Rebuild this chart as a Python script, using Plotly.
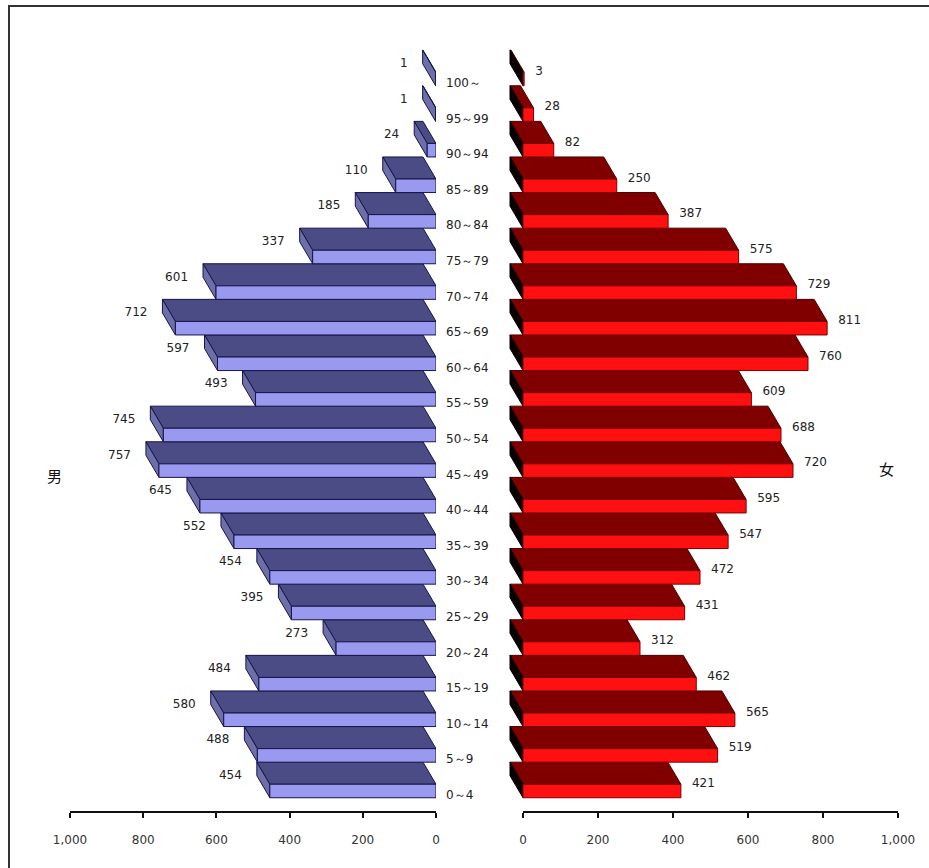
import plotly.graph_objects as go

# ---------------- data ----------------
ages = ["0～4", "5～9", "10～14", "15～19", "20～24", "25～29", "30～34", "35～39",
        "40～44", "45～49", "50～54", "55～59", "60～64", "65～69", "70～74", "75～79",
        "80～84", "85～89", "90～94", "95～99", "100～"]
male = [454, 488, 580, 484, 273, 395, 454, 552, 645, 757, 745, 493, 597, 712, 601,
        337, 185, 110, 24, 1, 1]
female = [421, 519, 565, 462, 312, 431, 472, 547, 595, 720, 688, 609, 760, 811, 729,
          575, 387, 250, 82, 28, 3]
tick_vals = [0, 200, 400, 600, 800, 1000]
label_male = "男"
label_female = "女"

# ---------------- layout geometry (pixels) ----------------
W, H = 929, 868
M0_PX, M1000_PX = 436, 70      # male axis: 0 and 1000
F0_PX, F1000_PX = 523, 898     # female axis: 0 and 1000
ROW_PX = 35.6                  # category spacing
ROW0_PX = 791                  # centre of front face of first category
AXIS_PX = 812                  # y of the value axis line
DEPTH_PX = 13                  # oblique depth offset (to the left)
H_FRONT = 0.19                 # half-height of front face (category units)
DEPTH_Y = 0.62                 # vertical depth offset (category units)
FEM_MIN = -45

m_ppu = (M0_PX - M1000_PX) / 1000.0
f_ppu = (F1000_PX - F0_PX) / 1000.0
dxm = DEPTH_PX / m_ppu          # male axis is reversed: +value = left
dxf = -DEPTH_PX / f_ppu

y0 = (ROW0_PX - H) / ROW_PX
y1 = y0 + H / ROW_PX
axis_paper = (H - AXIS_PX) / H


def build(vals, dx, face):
    xs, ys = [], []
    h, d = H_FRONT, DEPTH_Y
    for i, v in enumerate(vals):
        if face == "front":
            pts = [(0, i - h), (v, i - h), (v, i + h), (0, i + h)]
        elif face == "top":
            pts = [(0, i + h), (v, i + h), (v + dx, i + h + d), (dx, i + h + d)]
        elif face == "side_end":
            pts = [(v, i - h), (v, i + h), (v + dx, i + h + d), (v + dx, i - h + d)]
        else:  # side at zero
            pts = [(0, i - h), (0, i + h), (dx, i + h + d), (dx, i - h + d)]
        pts.append(pts[0])
        for px_, py_ in pts:
            xs.append(px_)
            ys.append(py_)
        xs.append(None)
        ys.append(None)
    return xs, ys


fig = go.Figure()


def add_poly(vals, dx, face, fill, line, xaxis):
    xs, ys = build(vals, dx, face)
    fig.add_trace(go.Scatter(x=xs, y=ys, mode="lines", fill="toself",
                             fillcolor=fill, line=dict(color=line, width=1),
                             xaxis=xaxis, yaxis="y", hoverinfo="skip",
                             showlegend=False))


# male bars (3D look)
add_poly(male, dxm, "top", "#4B4B85", "#15154A", "x")
add_poly(male, dxm, "side_end", "#6E6EA8", "#15154A", "x")
add_poly(male, dxm, "front", "#9999F0", "#15154A", "x")
# female bars (3D look)
add_poly(female, dxf, "top", "#800000", "#4A0000", "x2")
add_poly(female, dxf, "side_zero", "#0A0000", "#000000", "x2")
add_poly(female, dxf, "front", "#FF1010", "#7A0000", "x2")

idx = list(range(len(ages)))
TXT = dict(family="DejaVu Sans", size=12, color="#222222")

# value labels
fig.add_trace(go.Scatter(
    x=[v + 28 / m_ppu for v in male], y=[i + 0.42 for i in idx],
    text=[str(v) for v in male], mode="text", textposition="middle left",
    textfont=TXT, xaxis="x", yaxis="y", hoverinfo="skip", showlegend=False,
    cliponaxis=False))
fig.add_trace(go.Scatter(
    x=[v + 11 / f_ppu for v in female], y=[i + 0.2 for i in idx],
    text=[str(v) for v in female], mode="text", textposition="middle right",
    textfont=TXT, xaxis="x2", yaxis="y", hoverinfo="skip", showlegend=False,
    cliponaxis=False))

annotations = []
for i, a in enumerate(ages):
    annotations.append(dict(x=444 / W, xref="paper", y=i, yref="y", yshift=-4,
                            text=a, showarrow=False, xanchor="left", font=TXT))
annotations.append(dict(x=45 / W, xref="paper", y=(H - 476) / H, yref="paper",
                        text=label_male, showarrow=False,
                        font=dict(family="Noto Sans CJK JP", size=15, color="#111111")))
annotations.append(dict(x=896 / W, xref="paper", y=(H - 469) / H, yref="paper",
                        text=label_female, showarrow=False,
                        font=dict(family="Noto Sans CJK JP", size=15, color="#111111")))

shapes = [
    dict(type="line", xref="x", yref="paper", x0=0, x1=1000, y0=axis_paper,
         y1=axis_paper, line=dict(color="#111111", width=2)),
    dict(type="line", xref="x2", yref="paper", x0=0, x1=1000, y0=axis_paper,
         y1=axis_paper, line=dict(color="#111111", width=2)),
    dict(type="rect", xref="paper", yref="paper", x0=9 / W, x1=1.02, y0=-0.02,
         y1=(H - 6) / H, line=dict(color="#333333", width=2)),
]

axis_common = dict(
    tickvals=tick_vals, tickformat=",d", ticks="outside", ticklen=5,
    tickwidth=1.5, tickcolor="#111111", showline=False, showgrid=False,
    zeroline=False, anchor="free", position=axis_paper, automargin=False,
    tickfont=dict(family="DejaVu Sans", size=12, color="#333333"),
    ticklabelstandoff=12,
)

fig.update_layout(
    width=W, height=H, margin=dict(l=0, r=0, t=0, b=0, pad=0, autoexpand=False),
    paper_bgcolor="white", plot_bgcolor="rgba(0,0,0,0)",
    xaxis=dict(domain=[M1000_PX / W, M0_PX / W], range=[1000, 0], **axis_common),
    xaxis2=dict(domain=[(F0_PX + FEM_MIN * f_ppu) / W, F1000_PX / W],
                range=[FEM_MIN, 1000], **axis_common),
    yaxis=dict(range=[y0, y1], domain=[0, 1], visible=False, fixedrange=True,
               automargin=False),
    annotations=annotations, shapes=shapes, showlegend=False,
)

fig.write_html("out.html", config={"displayModeBar": False},
               post_script="document.body.style.margin='0';")
